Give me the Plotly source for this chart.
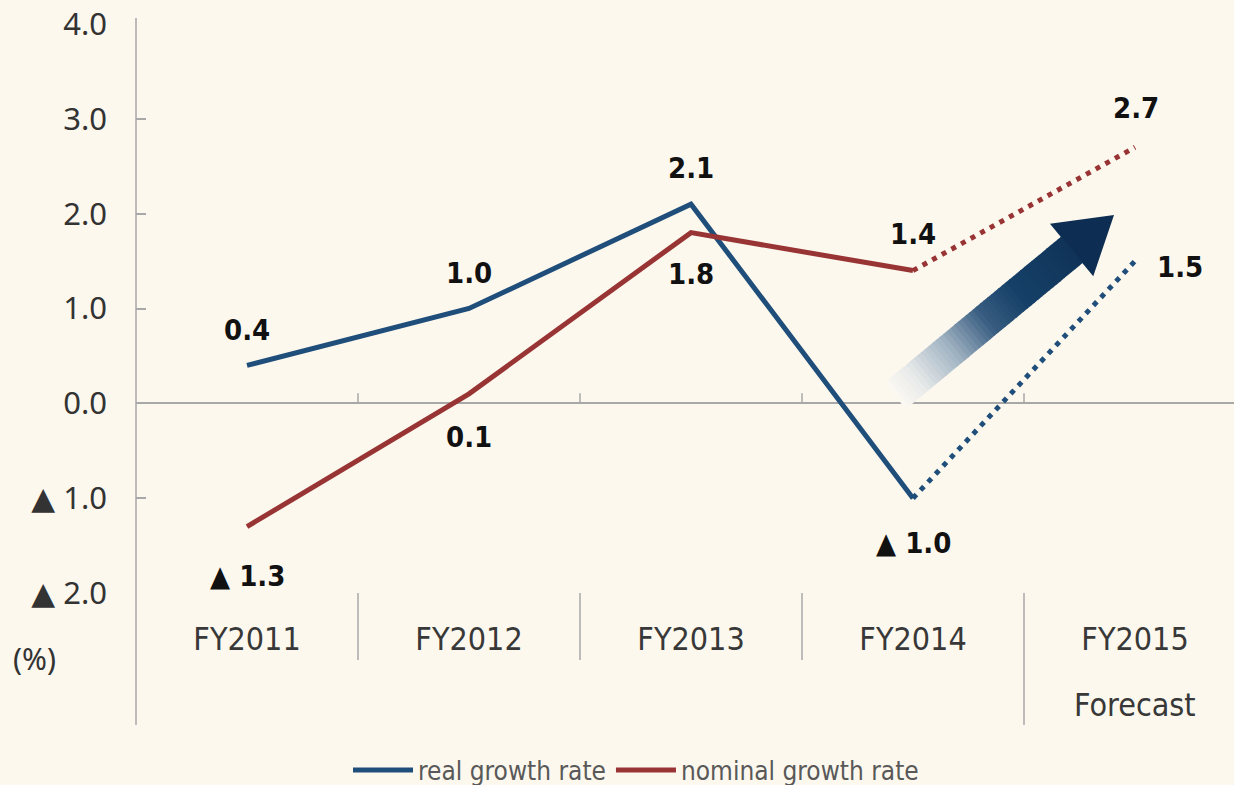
import plotly.graph_objects as go

# ---------------- data ----------------
categories = ["FY2011", "FY2012", "FY2013", "FY2014", "FY2015"]
real_growth = [0.4, 1.0, 2.1, -1.0, 1.5]        # FY2015 is a forecast
nominal_growth = [-1.3, 0.1, 1.8, 1.4, 2.7]     # FY2015 is a forecast
real_labels = ["0.4", "1.0", "2.1", "▲ 1.0", "1.5"]
nominal_labels = ["▲ 1.3", "0.1", "1.8", "1.4", "2.7"]
ytick_vals = [4, 3, 2, 1, 0, -1, -2]
ytick_text = ["4.0", "3.0", "2.0", "1.0", "0.0", "▲ 1.0", "▲ 2.0"]
forecast_note = "Forecast"
unit_label = "(%)"
series_names = ["real growth rate", "nominal growth rate"]

# ---------------- styling / layout ----------------
W, H = 1234, 785
PLOT_L, PLOT_T, PLOT_W, PLOT_H = 136, 24, 1098, 569
XR = (-0.5, -0.5 + PLOT_W / 222.0)
YR = (-2, 4)
BG = "#fcf8ee"
BLUE = "#1f4e7a"
RED = "#983434"
AXIS = "#a8a8a8"
NARROW = "DejaVu Sans Condensed, Liberation Sans Narrow, sans-serif"
TICKFONT = "Noto Sans, DejaVu Sans, sans-serif"

def to_data(px, py):
    x = XR[0] + (px - PLOT_L) / PLOT_W * (XR[1] - XR[0])
    y = YR[1] - (py - PLOT_T) / PLOT_H * (YR[1] - YR[0])
    return x, y

def paper_y(py):
    return (PLOT_T + PLOT_H - py) / PLOT_H

def paper_x(px):
    return (px - PLOT_L) / PLOT_W

idx = list(range(len(categories)))
n_act = 4  # first four are actuals

fig = go.Figure()
fig.add_trace(go.Scatter(x=idx[:n_act], y=real_growth[:n_act], mode="lines",
                         line=dict(color=BLUE, width=5), name=series_names[0]))
fig.add_trace(go.Scatter(x=idx[:n_act], y=nominal_growth[:n_act], mode="lines",
                         line=dict(color=RED, width=5), name=series_names[1]))
fig.add_trace(go.Scatter(x=idx[n_act - 1:], y=real_growth[n_act - 1:], mode="lines",
                         line=dict(color=BLUE, width=5, dash="5px,6px"), showlegend=False))
fig.add_trace(go.Scatter(x=idx[n_act - 1:], y=nominal_growth[n_act - 1:], mode="lines",
                         line=dict(color=RED, width=5, dash="5px,6px"), showlegend=False))

# ---------------- data labels ----------------
real_off = [(0, 35), (0, 36), (0, 36), (0, -45), (45, -6)]
nom_off = [(0, -49), (0, -43), (0, -41), (0, 37), (1, 39)]
LABFONT = dict(family=NARROW, size=29, color="#111111")
annotations = []
for i, (v, t) in enumerate(zip(real_growth, real_labels)):
    annotations.append(dict(x=i, y=v, text="<b>%s</b>" % t, showarrow=False,
                            xshift=real_off[i][0], yshift=real_off[i][1], font=LABFONT))
for i, (v, t) in enumerate(zip(nominal_growth, nominal_labels)):
    annotations.append(dict(x=i, y=v, text="<b>%s</b>" % t, showarrow=False,
                            xshift=nom_off[i][0], yshift=nom_off[i][1], font=LABFONT))
annotations.append(dict(x=4, y=paper_y(705), yref="paper", text=forecast_note,
                        showarrow=False, yanchor="middle", xanchor="center",
                        font=dict(family=NARROW, size=32, color="#383838")))
annotations.append(dict(x=paper_x(34), xref="paper", y=paper_y(658), yref="paper",
                        text=unit_label, showarrow=False, yanchor="middle", xanchor="center",
                        font=dict(family=TICKFONT, size=30, color="#333333")))

# ---------------- axis decoration shapes ----------------
shapes = []
shapes.append(dict(type="line", xref="paper", yref="paper", x0=0, x1=0,
                   y0=paper_y(18), y1=paper_y(725), line=dict(color=AXIS, width=1.5)))
for b in [0.5, 1.5, 2.5, 3.5]:
    shapes.append(dict(type="line", xref="x", yref="y", x0=b, x1=b, y0=0,
                       y1=10 / PLOT_H * (YR[1] - YR[0]), line=dict(color=AXIS, width=1.5)))
    shapes.append(dict(type="line", xref="x", yref="paper", x0=b, x1=b, y0=0,
                       y1=paper_y(725 if b == 3.5 else 660), line=dict(color=AXIS, width=1.5)))

# ---------------- gradient arrow (decorative) ----------------
tail = (895.0, 396.0)
tip = (1114.0, 215.0)
dx, dy = tip[0] - tail[0], tip[1] - tail[1]
L = (dx * dx + dy * dy) ** 0.5
ux, uy = dx / L, dy / L
nx, ny = -uy, ux
half_shaft, half_head, head_len = 17.0, 34.0, 55.0
shaft_len = L - head_len
stops = [(0.0, (252, 249, 242)), (0.12, (232, 234, 234)), (0.32, (160, 178, 194)),
         (0.52, (55, 92, 128)), (0.7, (22, 64, 104)), (1.0, (16, 52, 88))]

def grad(t):
    for (t0, c0), (t1, c1) in zip(stops[:-1], stops[1:]):
        if t0 <= t <= t1:
            f = (t - t0) / (t1 - t0)
            return "rgb(%d,%d,%d)" % tuple(round(a + (b - a) * f) for a, b in zip(c0, c1))
    return "rgb(%d,%d,%d)" % stops[-1][1]

def pt(s, w):
    px = tail[0] + ux * s + nx * w
    py = tail[1] + uy * s + ny * w
    return "%.4f,%.4f" % to_data(px, py)

N = 48
for k in range(N):
    s0 = shaft_len * k / N
    s1 = min(shaft_len * (k + 1) / N + 0.8, shaft_len + 0.5)
    path = "M %s L %s L %s L %s Z" % (pt(s0, -half_shaft), pt(s1, -half_shaft),
                                      pt(s1, half_shaft), pt(s0, half_shaft))
    shapes.append(dict(type="path", xref="x", yref="y", path=path,
                       fillcolor=grad((k + 0.5) / N), line=dict(width=0)))
head = "M %s L %s L %s Z" % (pt(shaft_len, -half_head), pt(L, 0), pt(shaft_len, half_head))
shapes.append(dict(type="path", xref="x", yref="y", path=head,
                   fillcolor="rgb(13,46,82)", line=dict(width=0)))

fig.update_layout(
    width=W, height=H,
    margin=dict(l=PLOT_L, r=W - PLOT_L - PLOT_W, t=PLOT_T, b=H - PLOT_T - PLOT_H,
                autoexpand=False),
    paper_bgcolor=BG, plot_bgcolor=BG,
    showlegend=True,
    legend=dict(orientation="h", x=paper_x(636), xanchor="center",
                yref="container", y=1 - 770 / H, yanchor="middle",
                bgcolor="rgba(0,0,0,0)",
                font=dict(family=NARROW, size=26, color="#595959"),
                itemwidth=60, tracegroupgap=0),
    xaxis=dict(range=list(XR), tickmode="array", tickvals=idx, ticktext=categories,
               showgrid=False, zeroline=False, showline=False, ticks="",
               ticklabelstandoff=24, tickfont=dict(family=NARROW, size=32, color="#383838")),
    yaxis=dict(range=list(YR), tickmode="array", tickvals=ytick_vals, ticktext=ytick_text,
               showgrid=False, zeroline=True, zerolinecolor=AXIS, zerolinewidth=1.5,
               showline=False, ticks="inside", ticklen=10, tickcolor=AXIS, tickwidth=1.5,
               ticklabelstandoff=28, tickfont=dict(family=TICKFONT, size=31, color="#333333")),
    annotations=annotations,
    shapes=shapes,
)

fig.write_html("out.html")
